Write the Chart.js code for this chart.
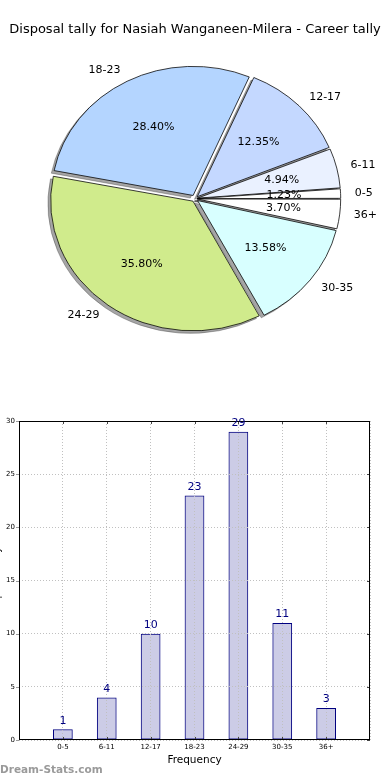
<!DOCTYPE html>
<html>
<head>
<meta charset="utf-8">
<title>Disposal tally - Nasiah Wanganeen-Milera</title>
<script src="https://cdn.jsdelivr.net/npm/chart.js@4.4.1/dist/chart.umd.min.js"></script>
<style>
  html, body { margin: 0; padding: 0; background: #fff; }
  #wrap { position: relative; width: 390px; height: 780px; overflow: hidden; }
  #pieChart { position: absolute; left: 0; top: 0; }
  #barChart { position: absolute; left: -10px; top: 410px; }
</style>
</head>
<body>
<div id="wrap">
  <canvas id="pieChart" width="390" height="400"></canvas>
  <canvas id="barChart" width="400" height="370"></canvas>
</div>
<script>
const chartTitle = 'Disposal tally for Nasiah Wanganeen-Milera - Career tally';
const categories = ['0-5', '6-11', '12-17', '18-23', '24-29', '30-35', '36+'];
const disposalCounts = [1, 4, 10, 23, 29, 11, 3];
const yTicks = [0, 5, 10, 15, 20, 25, 30];
const xAxisTitle = 'Frequency';
const yAxisTitle = 'Disposal Tally';

// wedge colours, same order as categories
const sliceColors = ['#ffffff', '#eaf1ff', '#c4d8ff', '#b4d5ff', '#d0eb8c', '#d8ffff', '#ffffff'];

Chart.defaults.font.family = "'DejaVu Sans', 'Liberation Sans', sans-serif";
Chart.defaults.color = '#000';

const total = disposalCounts.reduce((a, b) => a + b, 0);

// matplotlib lays the wedges counter-clockwise from 3 o'clock, chart.js goes clockwise,
// so the pie gets the slices in reverse order
const pieLabels = categories.slice().reverse();
const pieValues = disposalCounts.slice().reverse();
const pieColors = sliceColors.slice().reverse();

const PIE_RADIUS = 141.6;
const PIE_SQUASH = 129 / 141.6; // the original pie is an ellipse
const EXPLODE = 4.1;            // px each wedge is pushed out

function explodeOffset(ctx) {
    // chart.js moves an arc by offset/4 and also grows thin arcs by that much,
    // so shrink the offset for thin arcs to keep the outer edge in place
    const c = ctx.raw / total * Math.PI * 2;
    const fix = 1 - Math.sin(Math.min(Math.PI, c));
    return 4 * EXPLODE / (1 + fix);
}

function squash(ctx, cx, cy) {
    ctx.translate(cx, cy);
    ctx.scale(1, PIE_SQUASH);
    ctx.translate(-cx, -cy);
}

const squashPlugin = {
    id: 'squash',
    beforeDatasetsDraw(chart) {
        const arcs = chart.getDatasetMeta(0).data;
        const cx = arcs[0].x;
        const cy = arcs[0].y;
        const ctx = chart.ctx;

        // shadow pass: draw the wedges far off canvas and keep only their shadows,
        // so every shadow sits under every wedge
        ctx.save();
        ctx.translate(-10000, 0);
        ctx.shadowColor = 'rgba(40, 40, 40, 0.42)';
        ctx.shadowOffsetX = 10000 - 2.8;
        ctx.shadowOffsetY = 2.6;
        ctx.shadowBlur = 0;
        squash(ctx, cx, cy);
        arcs.forEach(arc => arc.draw(ctx));
        ctx.restore();

        ctx.save();
        squash(ctx, cx, cy);
    },
    afterDatasetsDraw(chart) {
        chart.ctx.restore();
    }
};

const pieLabelPlugin = {
    id: 'pieLabels',
    afterDraw(chart) {
        const ctx = chart.ctx;
        const meta = chart.getDatasetMeta(0);
        ctx.save();
        ctx.font = "11px 'DejaVu Sans'";
        ctx.fillStyle = '#000';
        ctx.textBaseline = 'middle';
        meta.data.forEach(function (arc, i) {
            const mid = (arc.startAngle + arc.endAngle) / 2;
            const cos = Math.cos(mid);
            const sin = Math.sin(mid);
            const r = arc.outerRadius;

            const outer = 1.1 * r + EXPLODE;
            ctx.textAlign = cos > 0 ? 'left' : 'right';
            ctx.fillText(pieLabels[i], arc.x + cos * outer, arc.y + sin * outer * PIE_SQUASH);

            const inner = 0.6 * r + EXPLODE;
            ctx.textAlign = 'center';
            ctx.fillText((pieValues[i] / total * 100).toFixed(2) + '%',
                arc.x + cos * inner, arc.y + sin * inner * PIE_SQUASH);
        });
        ctx.restore();
    }
};

new Chart(document.getElementById('pieChart'), {
    type: 'pie',
    data: {
        labels: pieLabels,
        datasets: [{
            data: pieValues,
            backgroundColor: pieColors,
            borderColor: '#000',
            borderWidth: 0.8,
            offset: explodeOffset,
            hoverOffset: 0,
            clip: false
        }]
    },
    options: {
        responsive: false,
        animation: false,
        events: [],
        rotation: 90,
        radius: PIE_RADIUS,
        layout: { padding: { top: 0, left: 0, right: 0, bottom: 40.2 } },
        plugins: {
            legend: { display: false },
            tooltip: { enabled: false },
            title: {
                display: true,
                text: chartTitle,
                color: '#000',
                font: { size: 13, weight: 'normal' },
                padding: { top: 22, bottom: 0 }
            }
        }
    },
    plugins: [squashPlugin, pieLabelPlugin]
});

// bar chart: linear x from -1 to 7 so there is a full category of room at each end
const barPoints = disposalCounts.map((v, i) => ({ x: i, y: v }));

const framePlugin = {
    id: 'frame',
    afterDraw(chart) {
        const ctx = chart.ctx;
        const a = chart.chartArea;
        const xs = chart.scales.x;
        const ys = chart.scales.y;
        ctx.save();
        ctx.lineWidth = 1;

        // small tick marks: outside on the left, inside elsewhere
        ctx.strokeStyle = '#999';
        ctx.beginPath();
        yTicks.forEach(function (v) {
            const py = Math.round(ys.getPixelForValue(v)) + 0.5;
            ctx.moveTo(a.left - 3, py);
            ctx.lineTo(a.left, py);
        });
        ctx.stroke();

        ctx.strokeStyle = '#444';
        ctx.beginPath();
        categories.forEach(function (c, i) {
            const px = Math.round(xs.getPixelForValue(i)) + 0.5;
            ctx.moveTo(px, a.bottom);
            ctx.lineTo(px, a.bottom - 3);
            ctx.moveTo(px, a.top);
            ctx.lineTo(px, a.top + 3);
        });
        yTicks.forEach(function (v) {
            const py = Math.round(ys.getPixelForValue(v)) + 0.5;
            ctx.moveTo(a.right, py);
            ctx.lineTo(a.right - 3, py);
        });
        ctx.stroke();

        ctx.strokeStyle = '#000';
        ctx.strokeRect(a.left + 0.5, a.top + 0.5, a.right - a.left - 1, a.bottom - a.top - 1);

        // value above each bar
        ctx.fillStyle = '#000080';
        ctx.font = "11px 'DejaVu Sans'";
        ctx.textAlign = 'center';
        ctx.textBaseline = 'middle';
        chart.getDatasetMeta(0).data.forEach(function (bar, i) {
            ctx.fillText(String(disposalCounts[i]), bar.x, bar.y - 8.5);
        });

        // watermark
        ctx.fillStyle = '#9a9a9a';
        ctx.font = "bold 10.5px 'DejaVu Sans'";
        ctx.textAlign = 'left';
        ctx.fillText('Dream-Stats.com', 10, 360);
        ctx.restore();
    }
};

new Chart(document.getElementById('barChart'), {
    type: 'bar',
    data: {
        datasets: [{
            data: barPoints,
            backgroundColor: 'rgba(0, 0, 128, 0.2)',
            borderColor: '#000080',
            borderWidth: 1,
            borderSkipped: false,
            barPercentage: 0.45,
            categoryPercentage: 1
        }]
    },
    options: {
        responsive: false,
        animation: false,
        events: [],
        layout: { padding: { top: 11, right: 20, bottom: 0, left: 0 } },
        plugins: {
            legend: { display: false },
            tooltip: { enabled: false }
        },
        scales: {
            x: {
                type: 'linear',
                min: -1,
                max: 7,
                offset: false,
                afterFit(scale) { scale.height = 40; },
                ticks: {
                    stepSize: 1,
                    autoSkip: false,
                    maxRotation: 0,
                    padding: 2.5,
                    color: '#000',
                    font: { size: 7 },
                    callback: function (v) { return categories[v] || ''; }
                },
                grid: { color: '#c0c0c0', drawTicks: false, offset: false, z: 1 },
                border: { display: false, dash: [1, 2] },
                title: {
                    display: true,
                    text: xAxisTitle,
                    color: '#000',
                    font: { size: 10.5 },
                    padding: { top: 0, bottom: 13 }
                }
            },
            y: {
                min: 0,
                max: 30,
                afterFit(scale) { scale.width = 29; },
                afterBuildTicks(scale) { scale.ticks = yTicks.map(v => ({ value: v })); },
                ticks: { padding: 4, color: '#000', font: { size: 7 } },
                grid: { color: '#c0c0c0', drawTicks: false, z: 1 },
                border: { display: false, dash: [1, 2] },
                title: {
                    display: true,
                    text: yAxisTitle,
                    color: '#000',
                    font: { size: 10 },
                    padding: { top: 1.5, bottom: 0 }
                }
            }
        }
    },
    plugins: [framePlugin]
});
</script>
</body>
</html>
